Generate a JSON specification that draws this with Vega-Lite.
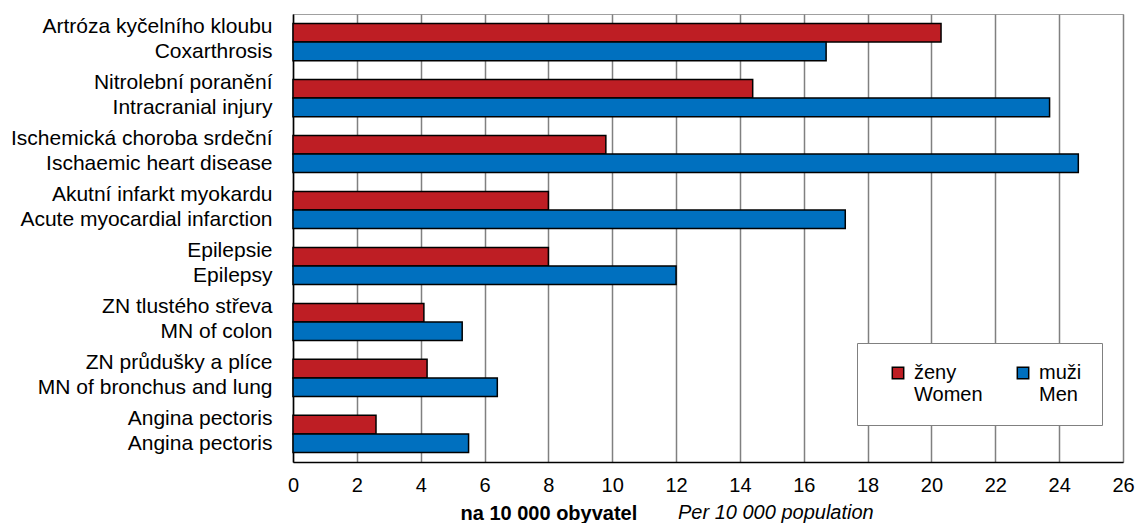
{
  "$schema": "https://vega.github.io/schema/vega-lite/v6.json",
  "width": 830,
  "height": 448,
  "autosize": {"type": "none"},
  "padding": {"left": 293, "top": 14, "right": 16, "bottom": 61},
  "background": "white",
  "config": {"font": "Liberation Sans", "view": {"stroke": "#a0a0a0", "strokeWidth": 1}},
  "title": {"text": "Per 10 000 population", "orient": "bottom", "anchor": "start", "frame": "group", "dx": 385, "offset": -20, "fontSize": 20, "fontStyle": "italic", "fontWeight": "normal", "color": "black"},
  "data": {"values": [
    {"diagnosis": "Artróza kyčelního kloubu / Coxarthrosis", "series": "ženy", "value": 20.3},
    {"diagnosis": "Artróza kyčelního kloubu / Coxarthrosis", "series": "muži", "value": 16.7},
    {"diagnosis": "Nitrolební poranění / Intracranial injury", "series": "ženy", "value": 14.4},
    {"diagnosis": "Nitrolební poranění / Intracranial injury", "series": "muži", "value": 23.7},
    {"diagnosis": "Ischemická choroba srdeční / Ischaemic heart disease", "series": "ženy", "value": 9.8},
    {"diagnosis": "Ischemická choroba srdeční / Ischaemic heart disease", "series": "muži", "value": 24.6},
    {"diagnosis": "Akutní infarkt myokardu / Acute myocardial infarction", "series": "ženy", "value": 8.0},
    {"diagnosis": "Akutní infarkt myokardu / Acute myocardial infarction", "series": "muži", "value": 17.3},
    {"diagnosis": "Epilepsie / Epilepsy", "series": "ženy", "value": 8.0},
    {"diagnosis": "Epilepsie / Epilepsy", "series": "muži", "value": 12.0},
    {"diagnosis": "ZN tlustého střeva / MN of colon", "series": "ženy", "value": 4.1},
    {"diagnosis": "ZN tlustého střeva / MN of colon", "series": "muži", "value": 5.3},
    {"diagnosis": "ZN průdušky a plíce / MN of bronchus and lung", "series": "ženy", "value": 4.2},
    {"diagnosis": "ZN průdušky a plíce / MN of bronchus and lung", "series": "muži", "value": 6.4},
    {"diagnosis": "Angina pectoris / Angina pectoris", "series": "ženy", "value": 2.6},
    {"diagnosis": "Angina pectoris / Angina pectoris", "series": "muži", "value": 5.5}
  ]},
  "mark": {"type": "bar", "stroke": "black", "strokeWidth": 1.5},
  "encoding": {
    "y": {
      "field": "diagnosis", "type": "nominal", "sort": null,
      "scale": {"paddingInner": 0.336, "paddingOuter": 0.17},
      "axis": {"title": null, "labelExpr": "split(datum.label, ' / ')", "labelFontSize": 21, "labelLineHeight": 25, "labelColor": "black", "labelPadding": 21, "labelAlign": "right", "labelOffset": -15, "ticks": false, "domainColor": "black", "domainWidth": 1.5, "labelLimit": 400}
    },
    "yOffset": {"field": "series", "type": "nominal", "sort": ["ženy", "muži"]},
    "x": {
      "field": "value", "type": "quantitative",
      "scale": {"domain": [0, 26], "nice": false},
      "axis": {"values": [0, 2, 4, 6, 8, 10, 12, 14, 16, 18, 20, 22, 24, 26], "title": "na 10 000 obyvatel", "titleFontWeight": "bold", "titleFontSize": 20, "titleColor": "black", "titleAnchor": "start", "titleX": 167, "titleY": 57, "titleBaseline": "alphabetic", "grid": true, "gridColor": "#808080", "gridWidth": 1.5, "ticks": false, "labelFontSize": 20, "labelPadding": 13, "labelFlush": false, "labelColor": "black", "domainColor": "black", "domainWidth": 1.5}
    },
    "color": {
      "field": "series", "type": "nominal",
      "scale": {"domain": ["ženy", "muži"], "range": ["#BE1E24", "#0070BF"]},
      "legend": {"orient": "none", "legendX": 564, "legendY": 329, "direction": "horizontal", "columns": 2, "title": null,
        "labelExpr": "datum.label == 'ženy' ? ['ženy', 'Women'] : ['muži', 'Men']",
        "labelFontSize": 20, "labelLineHeight": 25, "labelColor": "black", "labelOffset": 6,
        "symbolType": "square", "symbolSize": 130, "symbolStrokeColor": "black", "symbolStrokeWidth": 1.5, "symbolOffset": 11,
        "fillColor": "white", "strokeColor": "#808080", "padding": 20, "columnPadding": 19}
    }
  }
}
